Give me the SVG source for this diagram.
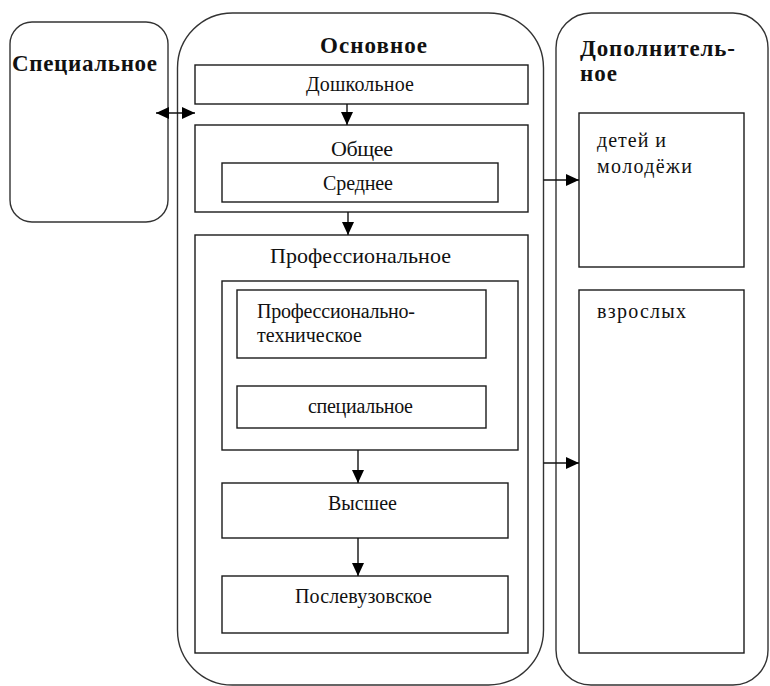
<svg xmlns="http://www.w3.org/2000/svg" width="770" height="686" viewBox="0 0 770 686">
<style>
.box{fill:none;stroke:#1a1a1a;stroke-width:1.4}
.round{fill:#fff;stroke:#333;stroke-width:1.4}
.t{font-family:"Liberation Serif","Times New Roman",serif;font-size:20px;fill:#111}
.b{font-family:"Liberation Serif","Times New Roman",serif;font-size:23px;font-weight:bold;fill:#111}
.c{text-anchor:middle}
.ln{stroke:#111;stroke-width:1.4;fill:none}
</style>
<defs>
<marker id="ah" markerUnits="userSpaceOnUse" markerWidth="14" markerHeight="13" refX="13" refY="6" orient="auto-start-reverse">
<path d="M0,0 L13,6 L0,12 z" fill="#000"/>
</marker>
</defs>
<rect width="770" height="686" fill="#fff"/>
<g id="special">
<rect class="round" x="10" y="22" width="158" height="200" rx="22"/>
<text class="b" x="12" y="71" textLength="145" lengthAdjust="spacing">Специальное</text>
</g>
<g id="osnovnoe">
<rect class="round" x="177.5" y="13" width="366" height="672" rx="55"/>
<text class="b" x="320" y="53" textLength="107" lengthAdjust="spacing">Основное</text>
</g>
<g id="dop">
<rect class="round" x="556" y="13" width="212" height="672" rx="35"/>
<text class="b" x="580" y="56" textLength="155" lengthAdjust="spacing">Дополнитель-</text>
<text class="b" x="580" y="81" textLength="37" lengthAdjust="spacing">ное</text>
</g>
<g id="doshk">
<rect class="box" x="195" y="65" width="333" height="39"/>
<text class="t" x="306" y="91" textLength="108" lengthAdjust="spacing">Дошкольное</text>
</g>
<g id="obshee">
<rect class="box" x="195" y="125" width="333" height="87"/>
<text class="t" x="331" y="156" textLength="62" lengthAdjust="spacing" style="font-size:22px">Общее</text>
</g>
<g id="srednee">
<rect class="box" x="222" y="163" width="276" height="39"/>
<text class="t" x="323" y="190" textLength="70" lengthAdjust="spacing">Среднее</text>
</g>
<g id="prof">
<rect class="box" x="195" y="235" width="333" height="418"/>
<text class="t" x="270" y="263" textLength="181" lengthAdjust="spacing" style="font-size:22px">Профессиональное</text>
</g>
<g id="prof-group">
<rect class="box" x="222" y="281" width="296" height="169"/>
</g>
<g id="proftech">
<rect class="box" x="237" y="290" width="249" height="68"/>
<text class="t" x="257" y="318" textLength="158" lengthAdjust="spacing">Профессионально-</text>
<text class="t" x="257" y="342" textLength="105" lengthAdjust="spacing">техническое</text>
</g>
<g id="spec2">
<rect class="box" x="237" y="386" width="249" height="42"/>
<text class="t" x="308" y="413" textLength="105" lengthAdjust="spacing">специальное</text>
</g>
<g id="vysshee">
<rect class="box" x="222" y="483" width="286" height="55"/>
<text class="t" x="328" y="510" textLength="69" lengthAdjust="spacing">Высшее</text>
</g>
<g id="poslevuz">
<rect class="box" x="222" y="576" width="286" height="57"/>
<text class="t" x="295" y="603" textLength="137" lengthAdjust="spacing">Послевузовское</text>
</g>
<g id="deti">
<rect class="box" x="579" y="113" width="165" height="154"/>
<text class="t" x="597" y="147" textLength="69" lengthAdjust="spacing">детей и</text>
<text class="t" x="597" y="173" textLength="95" lengthAdjust="spacing">молодёжи</text>
</g>
<g id="vzroslye">
<rect class="box" x="579" y="290" width="165" height="363"/>
<text class="t" x="597" y="318" textLength="89" lengthAdjust="spacing">взрослых</text>
</g>
<g id="connectors">
<line class="ln" x1="156" y1="113" x2="195" y2="113" marker-start="url(#ah)" marker-end="url(#ah)"/>
<line class="ln" x1="347" y1="104" x2="347" y2="125" marker-end="url(#ah)"/>
<line class="ln" x1="348" y1="212" x2="348" y2="235" marker-end="url(#ah)"/>
<line class="ln" x1="358" y1="450" x2="358" y2="483" marker-end="url(#ah)"/>
<line class="ln" x1="358" y1="538" x2="358" y2="576" marker-end="url(#ah)"/>
<line class="ln" x1="543.5" y1="180" x2="579" y2="180" marker-end="url(#ah)"/>
<line class="ln" x1="543.5" y1="463" x2="579" y2="463" marker-end="url(#ah)"/>
</g>
</svg>
